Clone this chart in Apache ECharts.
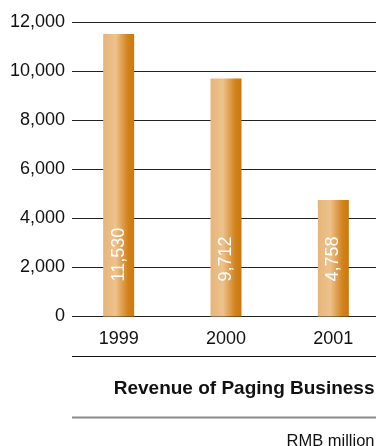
<!DOCTYPE html>
<html>
<head>
<meta charset="utf-8">
<script src="https://cdn.jsdelivr.net/npm/echarts@6/dist/echarts.min.js"></script>
<style>
  html, body { margin: 0; padding: 0; background: #fff; }
  #chart { width: 378px; height: 446px; }
</style>
</head>
<body>
<div id="chart"></div>
<script>
// Paging business revenue, RMB million
const years = ['1999', '2000', '2001'];
const revenue = [11530, 9712, 4758];
const yTicks = [0, 2000, 4000, 6000, 8000, 10000, 12000];

const FONT = 'Liberation Sans, Arial, Helvetica, sans-serif';
const withCommas = v => String(v).replace(/\B(?=(\d{3})+(?!\d))/g, ',');

const barGradient = {
  type: 'linear', x: 0, y: 0, x2: 1, y2: 0,
  colorStops: [
    { offset: 0, color: '#E6B57A' },
    { offset: 0.4, color: '#EDC28C' },
    { offset: 0.55, color: '#E3A962' },
    { offset: 0.8, color: '#D2821C' },
    { offset: 1, color: '#CC780A' }
  ]
};

const chart = echarts.init(document.getElementById('chart'), null, { renderer: 'canvas' });
chart.setOption({
  animation: false,
  textStyle: { fontFamily: FONT },
  grid: [
    // bars: the category bands run a little past the right edge of the canvas
    { left: 65, width: 322, top: 22.5, bottom: 129.5, outerBoundsMode: 'none', containLabel: false },
    // value scale and gridlines
    { left: 72, right: 2, top: 22.5, bottom: 129.5, outerBoundsMode: 'none', containLabel: false }
  ],
  xAxis: [
    {
      type: 'category', gridIndex: 0, data: years,
      axisLine: { show: false }, axisTick: { show: false },
      axisLabel: { color: '#111', fontSize: 18, margin: 14, fontFamily: FONT }
    },
    { type: 'value', gridIndex: 1, show: false, min: 0, max: 1 }
  ],
  yAxis: [
    { type: 'value', gridIndex: 0, min: 0, max: 12000, interval: 2000, show: false },
    {
      type: 'value', gridIndex: 1, min: yTicks[0], max: yTicks[yTicks.length - 1], interval: 2000,
      axisLine: { show: false }, axisTick: { show: false },
      axisLabel: { color: '#111', fontSize: 18, margin: 7, formatter: withCommas, fontFamily: FONT },
      splitLine: { show: true, lineStyle: { color: '#222', width: 1 } }
    }
  ],
  title: [
    {
      text: 'Revenue of Paging Business', right: 3.5, top: 379.5, padding: 0,
      textStyle: { fontSize: 19, fontWeight: 'bold', color: '#111', fontFamily: FONT }
    },
    {
      text: 'RMB million', right: 3.5, top: 432.5, padding: 0,
      textStyle: { fontSize: 16.5, fontWeight: 'normal', color: '#111', fontFamily: FONT }
    }
  ],
  graphic: [
    { type: 'line', shape: { x1: 72, y1: 356.5, x2: 376, y2: 356.5 }, style: { stroke: '#111', lineWidth: 1 } },
    { type: 'line', shape: { x1: 72, y1: 417.5, x2: 376, y2: 417.5 }, style: { stroke: '#8a8a8a', lineWidth: 2 } }
  ],
  series: [
    {
      type: 'bar', xAxisIndex: 0, yAxisIndex: 0, data: revenue, barWidth: 31, z: 3,
      itemStyle: { color: barGradient },
      label: {
        show: true, position: 'insideBottom', rotate: 90, distance: 35,
        align: 'left', verticalAlign: 'middle',
        color: '#fff', fontSize: 18, fontFamily: FONT,
        formatter: p => withCommas(p.value)
      }
    }
  ]
});
</script>
</body>
</html>
